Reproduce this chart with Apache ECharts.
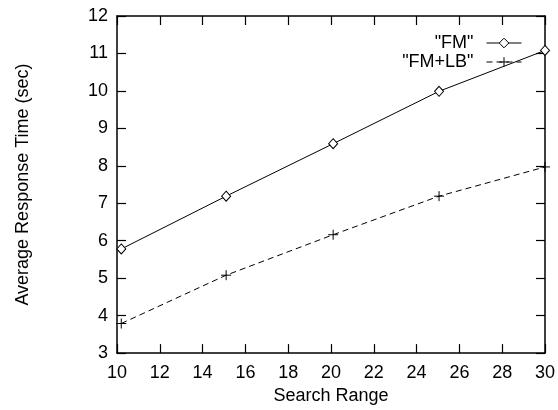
<!DOCTYPE html>
<html>
<head>
<meta charset="utf-8">
<script src="https://cdn.jsdelivr.net/npm/echarts@6/dist/echarts.min.js"></script>
<style>html,body{margin:0;padding:0;background:#fff}#c{width:558px;height:410px}</style>
</head>
<body>
<div id="c"></div>
<script>
const seriesNames = ['"FM"', '"FM+LB"'];
const searchRange = [10.2, 15.1, 20.1, 25.05, 30];
const fmValues = [5.78, 7.19, 8.59, 9.99, 11.08];
const fmlbValues = [3.79, 5.08, 6.16, 7.19, 7.97];
const xTicks = [10, 12, 14, 16, 18, 20, 22, 24, 26, 28, 30];
const yTicks = [3, 4, 5, 6, 7, 8, 9, 10, 11, 12];

const FONT = 'Liberation Sans, Arial, Helvetica, sans-serif';
const FS = 18;
const pair = (xs, ys) => xs.map((x, i) => [x, ys[i]]);

const axisCommon = {
  axisLine: { show: true, lineStyle: { color: '#000', width: 1.5 } },
  axisTick: { show: true, inside: true, length: 9, lineStyle: { color: '#000', width: 1.2 } },
  splitLine: { show: false }
};

const chart = echarts.init(document.getElementById('c'), null, { renderer: 'canvas' });
chart.setOption({
  backgroundColor: '#fff',
  animation: false,
  textStyle: { fontFamily: FONT, color: '#000' },
  grid: { left: 117, right: 13, top: 16, bottom: 54, containLabel: false },
  legend: {
    orient: 'vertical',
    align: 'right',
    right: 36,
    top: 34,
    padding: 0,
    itemWidth: 35,
    itemHeight: 12,
    itemGap: 1,
    lineStyle: { width: 1 },
    itemStyle: { borderWidth: 1 },
    textStyle: { fontFamily: FONT, fontSize: FS, color: '#000', padding: [0, 8, 0, 0] },
    data: seriesNames
  },
  xAxis: [
    Object.assign({
      type: 'value', position: 'bottom', min: xTicks[0], max: xTicks[xTicks.length - 1], interval: 2,
      name: 'Search Range', nameLocation: 'middle', nameGap: 28,
      nameTextStyle: { fontFamily: FONT, fontSize: FS, color: '#000' },
      axisLabel: { fontFamily: FONT, fontSize: FS, color: '#000', margin: 11 }
    }, axisCommon),
    Object.assign({
      type: 'value', position: 'top', min: xTicks[0], max: xTicks[xTicks.length - 1], interval: 2,
      axisLabel: { show: false }
    }, axisCommon)
  ],
  yAxis: [
    Object.assign({
      type: 'value', position: 'left', min: yTicks[0], max: yTicks[yTicks.length - 1], interval: 1,
      name: 'Average Response Time (sec)', nameLocation: 'middle', nameGap: 85,
      nameTextStyle: { fontFamily: FONT, fontSize: FS, color: '#000' },
      axisLabel: { fontFamily: FONT, fontSize: FS, color: '#000', margin: 9 }
    }, axisCommon),
    Object.assign({
      type: 'value', position: 'right', min: yTicks[0], max: yTicks[yTicks.length - 1], interval: 1,
      axisLabel: { show: false }
    }, axisCommon)
  ],
  series: [
    {
      name: seriesNames[0], type: 'line', xAxisIndex: 0, yAxisIndex: 0,
      data: pair(searchRange, fmValues),
      symbol: 'diamond', symbolSize: [9, 10], showAllSymbol: true, clip: false,
      lineStyle: { color: '#000', width: 1, type: 'solid' },
      itemStyle: { color: '#fff', borderColor: '#000', borderWidth: 1 },
      emphasis: { disabled: true }
    },
    {
      name: seriesNames[1], type: 'line', xAxisIndex: 0, yAxisIndex: 0,
      data: pair(searchRange, fmlbValues),
      symbol: 'path://M-1,0L1,0M0,-1L0,1', symbolSize: 10, showAllSymbol: true, clip: false,
      lineStyle: { color: '#000', width: 1, type: [6, 4] },
      itemStyle: { color: 'none', borderColor: '#000', borderWidth: 1 },
      emphasis: { disabled: true }
    }
  ]
});
</script>
</body>
</html>
